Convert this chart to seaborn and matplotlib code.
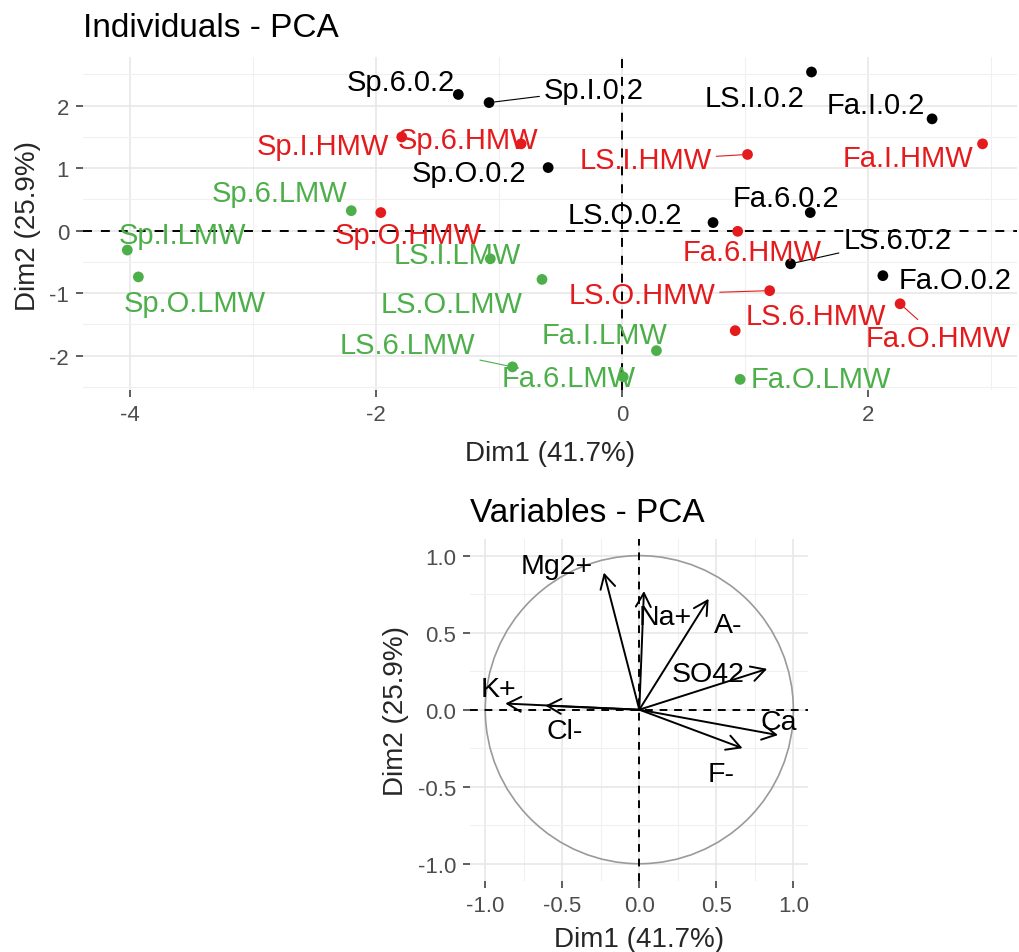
import numpy as np
import pandas as pd
import matplotlib
matplotlib.use("Agg")
import matplotlib.pyplot as plt
import seaborn as sns
from matplotlib.patches import Circle
from matplotlib.ticker import MultipleLocator, FormatStrFormatter

# ---------------- data ----------------
ind_names = [
    "Sp.6.0.2", "Sp.I.0.2", "Sp.O.0.2", "LS.I.0.2", "Fa.I.0.2", "Fa.6.0.2", "LS.O.0.2", "LS.6.0.2", "Fa.O.0.2",
    "Sp.I.HMW", "Sp.6.HMW", "Sp.O.HMW", "LS.I.HMW", "Fa.I.HMW", "Fa.6.HMW", "LS.O.HMW", "LS.6.HMW", "Fa.O.HMW",
    "Sp.6.LMW", "Sp.I.LMW", "Sp.O.LMW", "LS.I.LMW", "LS.O.LMW", "LS.6.LMW", "Fa.6.LMW", "Fa.I.LMW", "Fa.O.LMW",
]
ind_dim1 = [
    -1.33, -1.08, -0.60, 1.54, 2.52, 1.53, 0.74, 1.37, 2.12,
    -1.79, -0.82, -1.96, 1.02, 2.93, 0.94, 1.20, 0.92, 2.26,
    -2.20, -4.02, -3.93, -1.07, -0.65, -0.89, 0.01, 0.28, 0.96,
]
ind_dim2 = [
    2.18, 2.05, 1.01, 2.54, 1.79, 0.29, 0.13, -0.53, -0.72,
    1.50, 1.39, 0.29, 1.22, 1.39, -0.01, -0.96, -1.60, -1.17,
    0.32, -0.31, -0.74, -0.45, -0.78, -2.18, -2.34, -1.92, -2.38,
]
ind_group = ["0.2"] * 9 + ["HMW"] * 9 + ["LMW"] * 9
group_levels = ["0.2", "HMW", "LMW"]

var_names = ["Mg2+", "Na+", "A-", "SO42", "Ca", "F-", "K+", "Cl-"]
var_dim1 = [-0.23, 0.03, 0.45, 0.83, 0.90, 0.67, -0.87, -0.61]
var_dim2 = [0.89, 0.77, 0.72, 0.265, -0.165, -0.25, 0.04, 0.026]

title_ind = "Individuals - PCA"
title_var = "Variables - PCA"
x_label = "Dim1 (41.7%)"
y_label = "Dim2 (25.9%)"

# ---------------- layout (label offsets in pixels) ----------------
ind_label_offsets = {
    "Sp.6.0.2": (-58, 15), "Sp.I.0.2": (105, 16), "Sp.O.0.2": (-79, -2),
    "LS.I.0.2": (-57, -23), "Fa.I.0.2": (-56, 17), "Fa.6.0.2": (-24, 18),
    "LS.O.0.2": (-88, 11), "LS.6.0.2": (107, 27), "Fa.O.0.2": (72, -1),
    "Sp.I.HMW": (-79, -6), "Sp.6.HMW": (-53, 7), "Sp.O.HMW": (27, -19),
    "LS.I.HMW": (-102, -3), "Fa.I.HMW": (-75, -11), "Fa.6.HMW": (14, -18),
    "LS.O.HMW": (-128, -1), "LS.6.HMW": (81, 18), "Fa.O.HMW": (38, -31),
    "Sp.6.LMW": (-72, 21), "Sp.I.LMW": (55, 18), "Sp.O.LMW": (56, -23),
    "LS.I.LMW": (-33, 7), "LS.O.LMW": (-90, -22), "LS.6.LMW": (-105, 25),
    "Fa.6.LMW": (-55, 2), "Fa.I.LMW": (-52, 19), "Fa.O.LMW": (81, 3),
}
ind_leaders = {"Sp.I.0.2", "LS.6.0.2", "LS.I.HMW", "LS.O.HMW", "Fa.O.HMW", "LS.6.LMW"}
var_label_offsets = {
    "Mg2+": (-47, 10), "Na+": (21, -23), "A-": (20, -23), "SO42": (-59, -2),
    "Ca": (1, 16), "F-": (-21, -23), "K+": (-7, 18), "Cl-": (19, -22),
}

palette = {"0.2": "#000000", "HMW": "#E41A1C", "LMW": "#4DAF4A"}

# ---------------- style ----------------
sns.set_theme(style="white")
plt.rcParams["font.family"] = ["Liberation Sans", "DejaVu Sans"]
plt.rcParams["axes.unicode_minus"] = False

W, H = 1019, 953
fig = plt.figure(figsize=(W / 100, H / 100), dpi=100)
fig.patch.set_facecolor("white")


def rect(l, t, r, b):
    return [l / W, 1 - b / H, (r - l) / W, (b - t) / H]


def style_axes(ax, xmaj, xmin, ymaj, ymin):
    ax.set_facecolor("white")
    for s in ax.spines.values():
        s.set_visible(False)
    ax.xaxis.set_major_locator(MultipleLocator(xmaj))
    ax.xaxis.set_minor_locator(MultipleLocator(xmin))
    ax.yaxis.set_major_locator(MultipleLocator(ymaj))
    ax.yaxis.set_minor_locator(MultipleLocator(ymin))
    ax.grid(which="major", color="#E6E6E6", lw=1.1)
    ax.grid(which="minor", color="#F0F0F0", lw=0.8)
    ax.set_axisbelow(True)
    ax.tick_params(which="major", length=5, width=1.1, color="#333333",
                   labelcolor="#4D4D4D", labelsize=16, pad=5,
                   bottom=True, left=True)
    ax.tick_params(which="minor", length=0)
    ax.set_xlabel("")
    ax.set_ylabel("")


# ---------------- top: individuals ----------------
ax1 = fig.add_axes(rect(83, 58, 1017, 391))
df = pd.DataFrame({"name": ind_names, "Dim1": ind_dim1, "Dim2": ind_dim2, "group": ind_group})
sns.scatterplot(data=df, x="Dim1", y="Dim2", hue="group", hue_order=group_levels,
                palette=palette, s=60, edgecolor="none", legend=False, ax=ax1, zorder=3)
ax1.axhline(0, color="black", lw=1.4, ls=(0, (4.6, 4.6)), zorder=2)
ax1.axvline(0, color="black", lw=1.4, ls=(0, (4.6, 4.6)), zorder=2)
ax1.set_xlim(-4.38, 3.21)
ax1.set_ylim(-2.55, 2.78)
style_axes(ax1, 2, 1, 1, 0.5)

for _, r in df.iterrows():
    c = palette[r["group"]]
    dx, dy = ind_label_offsets[r["name"]]
    kw = {}
    if r["name"] in ind_leaders:
        kw["arrowprops"] = dict(arrowstyle="-", color=c, lw=0.8, shrinkA=1, shrinkB=4)
    ax1.annotate(r["name"], xy=(r["Dim1"], r["Dim2"]), xytext=(dx, dy),
                 textcoords="offset pixels", ha="center", va="center_baseline",
                 fontsize=21, color=c, zorder=4, **kw)

fig.text(83 / W, 1 - 37 / H, title_ind, fontsize=24, color="black", ha="left", va="baseline")
fig.text(550 / W, 1 - 461 / H, x_label, fontsize=20, ha="center", va="baseline")
fig.text(28 / W, 1 - 226 / H, y_label, fontsize=20, ha="center", va="center", rotation=90)

# ---------------- bottom: variables ----------------
ax2 = fig.add_axes(rect(470, 540, 808, 882))
ax2.add_patch(Circle((0, 0), 1, fill=False, color="#9A9A9A", lw=1.2, zorder=2))
ax2.axhline(0, color="black", lw=1.4, ls=(0, (4, 3.5)), zorder=2)
ax2.axvline(0, color="black", lw=1.4, ls=(0, (4, 3.5)), zorder=2)
for n, x, y in zip(var_names, var_dim1, var_dim2):
    ax2.annotate("", xy=(x, y), xytext=(0, 0),
                 arrowprops=dict(arrowstyle="->,head_length=0.55,head_width=0.3",
                                 lw=1.4, color="black", shrinkA=0, shrinkB=0,
                                 mutation_scale=18), zorder=3)
    dx, dy = var_label_offsets[n]
    ax2.annotate(n, xy=(x, y), xytext=(dx, dy), textcoords="offset pixels",
                 ha="center", va="center_baseline", fontsize=20.5, color="black", zorder=4)
ax2.set_xlim(-1.099, 1.095)
ax2.set_ylim(-1.112, 1.108)
style_axes(ax2, 0.5, 0.25, 0.5, 0.25)
ax2.xaxis.set_major_formatter(FormatStrFormatter("%.1f"))
ax2.yaxis.set_major_formatter(FormatStrFormatter("%.1f"))

fig.text(470 / W, 1 - 522 / H, title_var, fontsize=24, color="black", ha="left", va="baseline")
fig.text(639 / W, 1 - 947 / H, x_label, fontsize=20, ha="center", va="baseline")
fig.text(396 / W, 1 - 711 / H, y_label, fontsize=20, ha="center", va="center", rotation=90)

fig.savefig("out.png", dpi=100, facecolor="white")
